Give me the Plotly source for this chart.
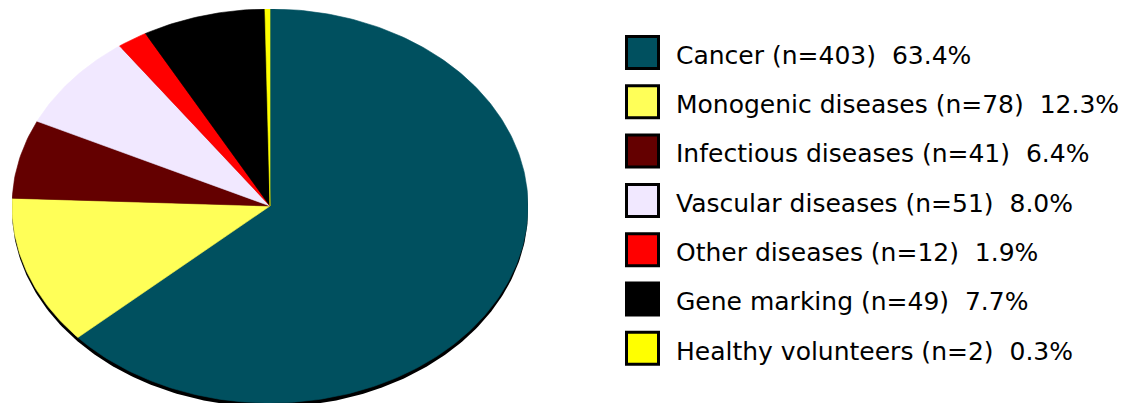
import numpy as np
import plotly.graph_objects as go

categories = ["Cancer", "Monogenic diseases", "Infectious diseases", "Vascular diseases",
              "Other diseases", "Gene marking", "Healthy volunteers"]
counts = [403, 78, 41, 51, 12, 49, 2]
percents = [63.4, 12.3, 6.4, 8.0, 1.9, 7.7, 0.3]
colors = ["#00505f", "#ffff58", "#640000", "#f1e8ff", "#ff0000", "#000000", "#ffff00"]

W, H = 1147, 409
# ellipse placement in pixels
cx_l, cx_r = 12, 528
cy_t, cy_b = 9, 403

fig = go.Figure()

total = sum(counts)
# shadow under the pie
t = np.linspace(0, 2 * np.pi, 400)
shift = 4 / ((cy_b - cy_t) / 2)
fig.add_trace(go.Scatter(x=np.sin(t), y=np.cos(t) - shift, mode="lines", fill="toself",
                         fillcolor="#000000", line=dict(color="#000000", width=0),
                         hoverinfo="skip", showlegend=False, xaxis="x", yaxis="y"))

start = 0.0
for name, c, col in zip(categories, counts, colors):
    f0 = start / total
    f1 = (start + c) / total
    n = max(int(400 * (f1 - f0)), 4)
    a = np.linspace(f0, f1, n) * 2 * np.pi
    xs = np.concatenate([[0], np.sin(a), [0]])
    ys = np.concatenate([[0], np.cos(a), [0]])
    fig.add_trace(go.Scatter(x=xs, y=ys, mode="lines", fill="toself", fillcolor=col,
                             line=dict(color=col, width=0.6), name=name,
                             hoverinfo="skip", showlegend=False, xaxis="x", yaxis="y"))
    start += c

# legend drawn in pixel axis
row0, step = 52.5, 49.3
rows = [row0 + step * i for i in range(len(categories))]
labels = [f"{n} (n={c})  {p:.1f}%" for n, c, p in zip(categories, counts, percents)]
fig.add_trace(go.Scatter(x=[642.5] * len(rows), y=rows, mode="markers",
                         marker=dict(symbol="square", size=32, color=colors,
                                     line=dict(color="#000000", width=3)),
                         hoverinfo="skip", showlegend=False, xaxis="x2", yaxis="y2"))
fig.add_trace(go.Scatter(x=[676] * len(rows), y=[r + 5 for r in rows], mode="text",
                         text=labels, textposition="middle right",
                         textfont=dict(family="DejaVu Sans", size=25, color="#000000"),
                         hoverinfo="skip", showlegend=False, xaxis="x2", yaxis="y2"))

fig.update_layout(
    width=W, height=H,
    margin=dict(l=0, r=0, t=0, b=0),
    paper_bgcolor="white", plot_bgcolor="rgba(0,0,0,0)",
    hovermode=False,
    xaxis=dict(domain=[cx_l / W, cx_r / W], range=[-1, 1], visible=False, fixedrange=True),
    yaxis=dict(domain=[1 - cy_b / H, 1 - cy_t / H], range=[-1, 1], visible=False, fixedrange=True),
    xaxis2=dict(domain=[0, 1], range=[0, W], visible=False, anchor="y2", fixedrange=True),
    yaxis2=dict(domain=[0, 1], range=[H, 0], visible=False, anchor="x2", fixedrange=True),
)

fig.write_html("out.html", config={"displayModeBar": False},
               post_script="document.body.style.margin='0';document.body.style.overflow='hidden';")
